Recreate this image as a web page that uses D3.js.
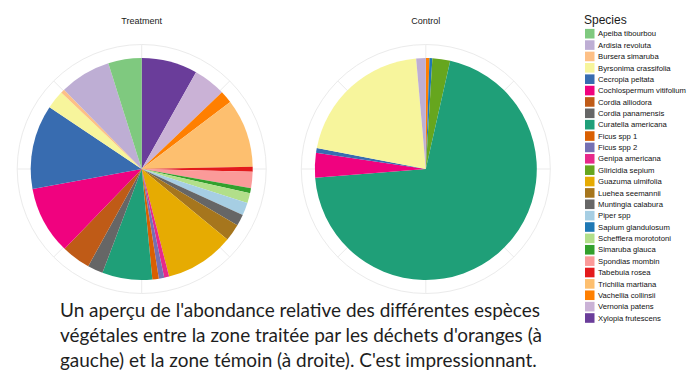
<!DOCTYPE html>
<html>
<head>
<meta charset="utf-8">
<script src="https://cdn.jsdelivr.net/npm/d3@7"></script>
<style>
  html, body { margin: 0; padding: 0; background: #fff; }
  svg { display: block; }
</style>
</head>
<body>
<svg id="chart" width="700" height="385"></svg>
<script>
const species = [
  "Apeiba tibourbou", "Ardisia revoluta", "Bursera simaruba", "Byrsonima crassifolia",
  "Cecropia peltata", "Cochlospermum vitifolium", "Cordia alliodora", "Cordia panamensis",
  "Curatella americana", "Ficus spp 1", "Ficus spp 2", "Genipa americana",
  "Gliricidia sepium", "Guazuma ulmifolia", "Luehea seemannii", "Muntingia calabura",
  "Piper spp", "Sapium glandulosum", "Schefflera morototoni", "Simaruba glauca",
  "Spondias mombin", "Tabebuia rosea", "Trichilia martiana", "Vachellia collinsii",
  "Vernonia patens", "Xylopia frutescens"
];
const colors = [
  "#7fc97f", "#beaed4", "#fdc086", "#f7f59c", "#386cb0", "#f0027f", "#bf5b17", "#666666",
  "#1f9f78", "#d95f02", "#7570b3", "#e7298a", "#66a61e", "#e6ab02", "#a6761d", "#666666",
  "#a6cee3", "#1f78b4", "#b2df8a", "#33a02c", "#fb9a99", "#e31a1c", "#fdbf6f", "#ff7f00",
  "#cab2d6", "#6a3d9a"
];
// relative abundance (%) per species, same order as `species`
const treatment = [
  4.86, 7.47, 0.58, 2.69, 12.28, 9.89, 4.22, 2.25,
  7.28, 0.94, 0.78, 0.72, 0, 10.06, 2.50, 1.67,
  1.86, 0, 1.44, 0.72, 2.39, 0.72, 9.97, 1.83,
  4.72, 8.14
];
const control = [
  0, 1.39, 0, 20.58, 0.67, 3.61, 0, 0,
  70.20, 0, 0, 0, 2.58, 0, 0, 0,
  0, 0.42, 0, 0, 0, 0, 0, 0.53,
  0, 0
];
const panels = ["Treatment", "Control"];
const caption = [
  "Un aperçu de l'abondance relative des différentes espèces",
  "végétales entre la zone traitée par les déchets d'oranges (à",
  "gauche) et la zone témoin (à droite). C'est impressionnant."
];

const svg = d3.select("#chart");
const color = d3.scaleOrdinal().domain(species).range(colors);

const pieR = 111, gridR = 124.5;
const centers = [{x: 141.7, y: 169}, {x: 425.8, y: 169}];
const datasets = [treatment, control];

const pie = d3.pie().sort(null).value(d => d.v).startAngle(0).endAngle(2 * Math.PI);
const arc = d3.arc().innerRadius(0).outerRadius(pieR);

panels.forEach((name, i) => {
  const c = centers[i];
  const g = svg.append("g").attr("transform", `translate(${c.x},${c.y})`);
  // grid
  g.append("circle").attr("r", gridR).attr("fill", "none")
    .attr("stroke", "#ebebeb").attr("stroke-width", 1);
  d3.range(8).forEach(k => {
    const a = k * Math.PI / 4;
    g.append("line")
      .attr("x1", 0).attr("y1", 0)
      .attr("x2", gridR * Math.sin(a)).attr("y2", -gridR * Math.cos(a))
      .attr("stroke", "#ebebeb").attr("stroke-width", 1);
  });
  // slices: reverse alphabetical clockwise from 12 o'clock
  const data = species.map((s, j) => ({s, v: datasets[i][j]})).reverse().filter(d => d.v > 0);
  g.selectAll("path.slice").data(pie(data)).join("path")
    .attr("class", "slice")
    .attr("d", arc)
    .attr("fill", d => color(d.data.s));
  svg.append("text")
    .attr("x", c.x).attr("y", 23.5)
    .attr("text-anchor", "middle")
    .attr("font-family", "Liberation Sans, Arial, sans-serif")
    .attr("font-size", 9)
    .attr("fill", "#1a1a1a")
    .text(name);
});

// legend
const lg = svg.append("g");
lg.append("text").attr("x", 584).attr("y", 24)
  .attr("font-family", "Liberation Sans, Arial, sans-serif")
  .attr("font-size", 12).attr("fill", "#1a1a1a").text("Species");
const rowY = d3.scalePoint().domain(species).range([33.7, 318]);
species.forEach(s => {
  const y = rowY(s);
  lg.append("rect").attr("x", 585).attr("y", y - 4.8).attr("width", 9.5).attr("height", 9.6)
    .attr("fill", color(s));
  lg.append("text").attr("x", 598).attr("y", y + 2.7)
    .attr("font-family", "Liberation Sans, Arial, sans-serif")
    .attr("font-size", 7.7).attr("fill", "#111").text(s);
});

// caption
const capG = svg.append("g");
const lines = caption.map((t, i) => capG.append("text")
  .attr("x", 60).attr("y", 317 + i * 25)
  .attr("font-family", "Lato, 'Open Sans', sans-serif")
  .attr("font-size", 18).attr("fill", "#1e1e1e").text(t));
const w = lines[0].node().getComputedTextLength();
const fs = 18 * 480 / w;
lines.forEach(l => l.attr("font-size", fs));
</script>
</body>
</html>
